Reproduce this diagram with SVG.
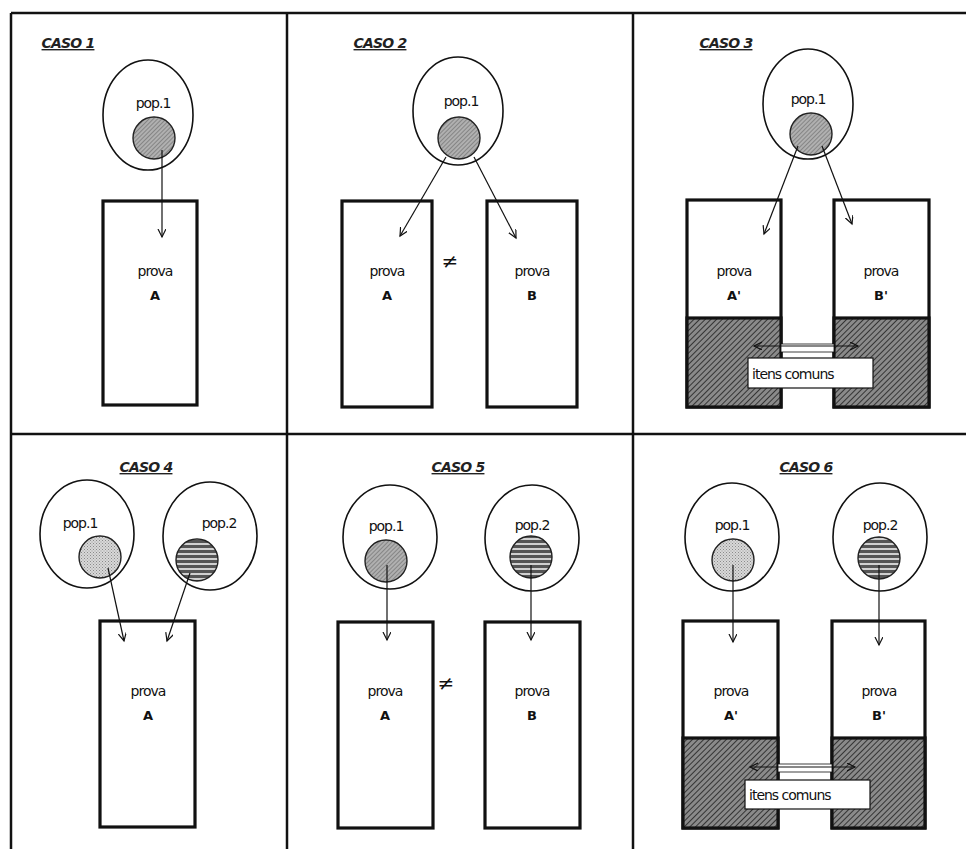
<svg xmlns="http://www.w3.org/2000/svg" width="968" height="849" viewBox="0 0 968 849">
<defs>
<style>
.frame{stroke:#111;stroke-width:2.5;fill:none}
.pop{fill:none;stroke:#111;stroke-width:1.6}
.box{fill:#fff;stroke:#111;stroke-width:3.2}
.lbl{font-family:"DejaVu Sans",sans-serif;font-size:14px;fill:#111;text-anchor:middle;letter-spacing:-1px}
.let{font-family:"DejaVu Sans",sans-serif;font-size:13px;fill:#111;text-anchor:middle;font-weight:bold}
.ttl{font-family:"DejaVu Sans",sans-serif;font-size:14px;font-style:italic;font-weight:bold;fill:#222;text-anchor:middle;text-decoration:underline;letter-spacing:-0.8px}
.neq{font-family:"DejaVu Sans",sans-serif;font-size:20px;fill:#111;text-anchor:middle}
.con{stroke:#111;stroke-width:1.2;fill:none}
.common{fill:#fff;stroke:#111;stroke-width:1.2}
.ctxt{font-family:"DejaVu Sans",sans-serif;font-size:14px;fill:#111;letter-spacing:-1px}
</style>
<pattern id="hatch" width="4" height="4" patternUnits="userSpaceOnUse" patternTransform="rotate(45)">
<rect width="4" height="4" fill="#8a8a8a"/>
<line x1="0" y1="0" x2="0" y2="4" stroke="#2a2a2a" stroke-width="1.8"/>
</pattern>
<pattern id="chk" width="3" height="3" patternUnits="userSpaceOnUse" patternTransform="rotate(45)">
<rect width="3" height="3" fill="#b0b0b0"/>
<line x1="0" y1="0" x2="0" y2="3" stroke="#5a5a5a" stroke-width="1"/>
</pattern>
<pattern id="dots" width="3" height="3" patternUnits="userSpaceOnUse">
<rect width="3" height="3" fill="#d8d8d8"/>
<rect x="0" y="0" width="1" height="1" fill="#8a8a8a"/>
<rect x="1.5" y="1.5" width="1" height="1" fill="#9a9a9a"/>
</pattern>
<pattern id="stripes" width="6" height="5" patternUnits="userSpaceOnUse">
<rect width="6" height="5" fill="#d0d0d0"/>
<rect width="6" height="3" fill="#555"/>
</pattern>
<marker id="arr" markerWidth="10" markerHeight="10" refX="8" refY="4" orient="auto-start-reverse" markerUnits="userSpaceOnUse">
<path d="M0,0 L8,4 L0,8" fill="none" stroke="#111" stroke-width="1.2"/>
</marker>
</defs>
<rect width="968" height="849" fill="#fff"/>

<g id="frame">
<line class="frame" x1="11" y1="13" x2="966" y2="13"/>
<line class="frame" x1="11" y1="13" x2="11" y2="849"/>
<line class="frame" x1="287" y1="13" x2="287" y2="849"/>
<line class="frame" x1="633" y1="13" x2="633" y2="849"/>
<line class="frame" x1="11" y1="434" x2="966" y2="434"/>
</g>

<!-- CASO 1 -->
<g id="caso1">
<text class="ttl" x="68" y="48">CASO 1</text>
<g id="c1-pop1">
<ellipse class="pop" cx="148" cy="115" rx="45" ry="55"/>
<text class="lbl" x="153" y="108">pop.1</text>
<circle cx="154" cy="138" r="21" fill="url(#chk)" stroke="#222" stroke-width="1.4"/>
</g>
<g id="c1-provaA">
<rect class="box" x="103" y="201" width="94" height="204"/>
<text class="lbl" x="155" y="276">prova</text>
<text class="let" x="155" y="300">A</text>
</g>
</g>

<!-- CASO 2 -->
<g id="caso2">
<text class="ttl" x="380" y="48">CASO 2</text>
<g id="c2-pop1">
<ellipse class="pop" cx="458" cy="111" rx="45" ry="54"/>
<text class="lbl" x="461" y="106">pop.1</text>
<circle cx="459" cy="138" r="21" fill="url(#chk)" stroke="#222" stroke-width="1.4"/>
</g>
<g id="c2-provaA">
<rect class="box" x="342" y="201" width="90" height="206"/>
<text class="lbl" x="387" y="276">prova</text>
<text class="let" x="387" y="300">A</text>
</g>
<text class="neq" x="450" y="268">≠</text>
<g id="c2-provaB">
<rect class="box" x="487" y="201" width="90" height="206"/>
<text class="lbl" x="532" y="276">prova</text>
<text class="let" x="532" y="300">B</text>
</g>
</g>

<!-- CASO 3 -->
<g id="caso3">
<text class="ttl" x="726" y="48">CASO 3</text>
<g id="c3-pop1">
<ellipse class="pop" cx="808" cy="104" rx="45" ry="55"/>
<text class="lbl" x="808" y="104">pop.1</text>
<circle cx="811" cy="134" r="21" fill="url(#chk)" stroke="#222" stroke-width="1.4"/>
</g>
<g id="c3-provaA">
<rect class="box" x="687" y="200" width="94" height="207"/>
<rect x="687" y="318" width="94" height="89" fill="url(#hatch)" stroke="#111" stroke-width="3.2"/>
<text class="lbl" x="734" y="276">prova</text>
<text class="let" x="734" y="300">A'</text>
</g>
<g id="c3-provaB">
<rect class="box" x="834" y="200" width="95" height="207"/>
<rect x="834" y="318" width="95" height="89" fill="url(#hatch)" stroke="#111" stroke-width="3.2"/>
<text class="lbl" x="881" y="276">prova</text>
<text class="let" x="881" y="300">B'</text>
</g>
<g id="c3-comuns">
<rect x="781" y="344" width="53" height="8" fill="#fff" stroke="#111" stroke-width="0.8"/>
<rect class="common" x="748" y="358" width="125" height="30"/>
<text class="ctxt" x="752" y="379">itens comuns</text>
</g>
</g>

<!-- CASO 4 -->
<g id="caso4">
<text class="ttl" x="146" y="472">CASO 4</text>
<g id="c4-pop1">
<ellipse class="pop" cx="87" cy="534" rx="47" ry="54"/>
<text class="lbl" x="80" y="528">pop.1</text>
<circle cx="100" cy="557" r="21" fill="url(#dots)" stroke="#222" stroke-width="1.4"/>
</g>
<g id="c4-pop2">
<ellipse class="pop" cx="210" cy="536" rx="47" ry="54"/>
<text class="lbl" x="219" y="528">pop.2</text>
<circle cx="197" cy="560" r="21" fill="url(#stripes)" stroke="#222" stroke-width="1.4"/>
</g>
<g id="c4-provaA">
<rect class="box" x="100" y="621" width="95" height="206"/>
<text class="lbl" x="148" y="696">prova</text>
<text class="let" x="148" y="720">A</text>
</g>
</g>

<!-- CASO 5 -->
<g id="caso5">
<text class="ttl" x="458" y="472">CASO 5</text>
<g id="c5-pop1">
<ellipse class="pop" cx="390" cy="537" rx="47" ry="52"/>
<text class="lbl" x="386" y="531">pop.1</text>
<circle cx="386" cy="561" r="21" fill="url(#chk)" stroke="#222" stroke-width="1.4"/>
</g>
<g id="c5-pop2">
<ellipse class="pop" cx="532" cy="538" rx="47" ry="53"/>
<text class="lbl" x="532" y="530">pop.2</text>
<circle cx="531" cy="557" r="21" fill="url(#stripes)" stroke="#222" stroke-width="1.4"/>
</g>
<g id="c5-provaA">
<rect class="box" x="338" y="622" width="95" height="206"/>
<text class="lbl" x="385" y="696">prova</text>
<text class="let" x="385" y="720">A</text>
</g>
<text class="neq" x="446" y="690">≠</text>
<g id="c5-provaB">
<rect class="box" x="485" y="622" width="95" height="206"/>
<text class="lbl" x="532" y="696">prova</text>
<text class="let" x="532" y="720">B</text>
</g>
</g>

<!-- CASO 6 -->
<g id="caso6">
<text class="ttl" x="806" y="472">CASO 6</text>
<g id="c6-pop1">
<ellipse class="pop" cx="732" cy="537" rx="47" ry="54"/>
<text class="lbl" x="732" y="530">pop.1</text>
<circle cx="733" cy="560" r="21" fill="url(#dots)" stroke="#222" stroke-width="1.4"/>
</g>
<g id="c6-pop2">
<ellipse class="pop" cx="880" cy="537" rx="47" ry="54"/>
<text class="lbl" x="880" y="530">pop.2</text>
<circle cx="879" cy="558" r="21" fill="url(#stripes)" stroke="#222" stroke-width="1.4"/>
</g>
<g id="c6-provaA">
<rect class="box" x="683" y="621" width="95" height="207"/>
<rect x="683" y="738" width="95" height="90" fill="url(#hatch)" stroke="#111" stroke-width="3.2"/>
<text class="lbl" x="731" y="696">prova</text>
<text class="let" x="731" y="720">A'</text>
</g>
<g id="c6-provaB">
<rect class="box" x="832" y="621" width="93" height="207"/>
<rect x="832" y="738" width="93" height="90" fill="url(#hatch)" stroke="#111" stroke-width="3.2"/>
<text class="lbl" x="879" y="696">prova</text>
<text class="let" x="879" y="720">B'</text>
</g>
<g id="c6-comuns">
<rect x="778" y="764" width="54" height="8" fill="#fff" stroke="#111" stroke-width="0.8"/>
<rect class="common" x="745" y="780" width="125" height="29"/>
<text class="ctxt" x="749" y="800">itens comuns</text>
</g>
</g>

<g id="connectors">
<line class="con" x1="162" y1="150" x2="162" y2="237" marker-end="url(#arr)"/>
<line class="con" x1="446" y1="157" x2="400" y2="236" marker-end="url(#arr)"/>
<line class="con" x1="474" y1="157" x2="516" y2="238" marker-end="url(#arr)"/>
<line class="con" x1="798" y1="146" x2="764" y2="234" marker-end="url(#arr)"/>
<line class="con" x1="822" y1="146" x2="852" y2="224" marker-end="url(#arr)"/>
<line class="con" x1="754" y1="346" x2="858" y2="346" marker-start="url(#arr)" marker-end="url(#arr)"/>
<line class="con" x1="108" y1="568" x2="124" y2="641" marker-end="url(#arr)"/>
<line class="con" x1="190" y1="573" x2="167" y2="641" marker-end="url(#arr)"/>
<line class="con" x1="387" y1="565" x2="387" y2="640" marker-end="url(#arr)"/>
<line class="con" x1="531" y1="565" x2="531" y2="640" marker-end="url(#arr)"/>
<line class="con" x1="733" y1="565" x2="733" y2="642" marker-end="url(#arr)"/>
<line class="con" x1="879" y1="565" x2="879" y2="645" marker-end="url(#arr)"/>
<line class="con" x1="750" y1="767" x2="855" y2="767" marker-start="url(#arr)" marker-end="url(#arr)"/>
</g>
</svg>
